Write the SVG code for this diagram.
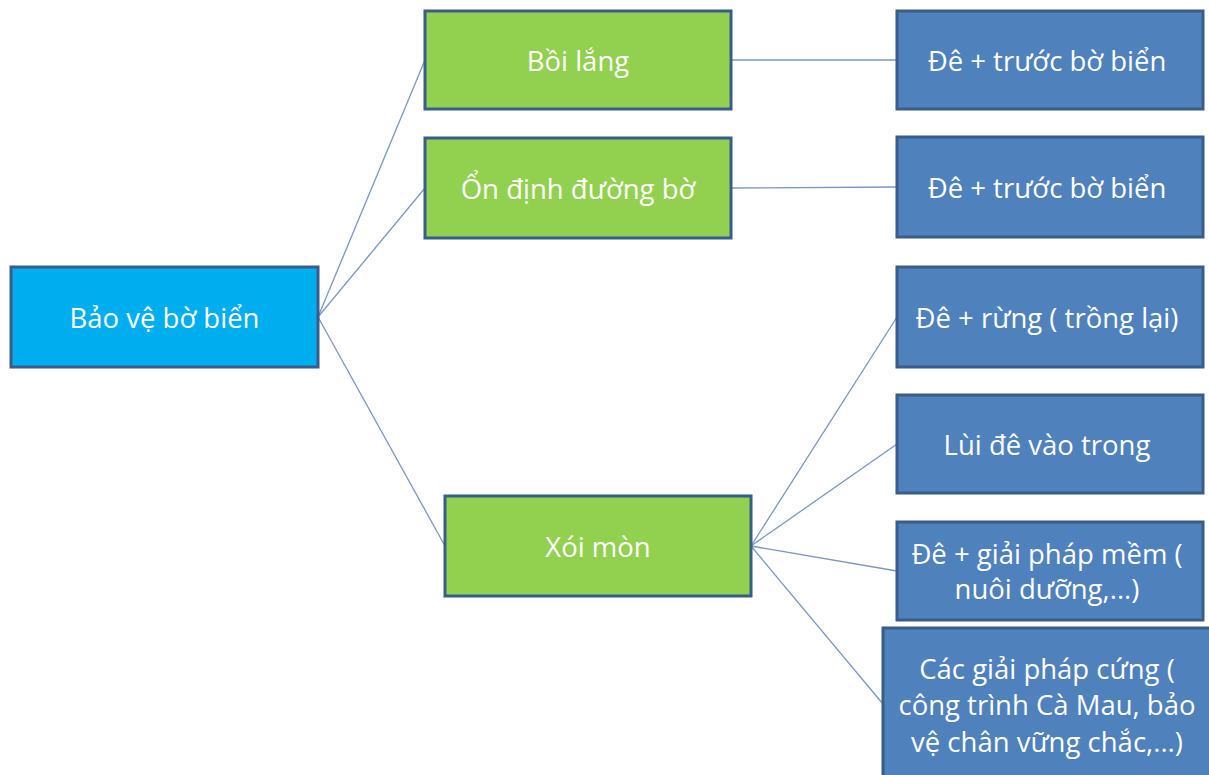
<svg xmlns="http://www.w3.org/2000/svg" width="1209" height="775" viewBox="0 0 1209 775">
<style>
.b{stroke:#385D8A;stroke-width:3}
.root{fill:#00AEEF}
.g{fill:#92D050}
.bl{fill:#4F81BD}
text{font-family:"Open Sans","Liberation Sans",sans-serif;font-size:27.5px;fill:#fff;text-anchor:middle;dominant-baseline:central}
.c line{stroke:#7A96C4;stroke-width:1.3}
</style>
<rect width="1209" height="775" fill="#fff"/>
<g class="c" id="connectors">
<line x1="318" y1="317" x2="425" y2="60"/>
<line x1="318" y1="317" x2="425" y2="188"/>
<line x1="318" y1="317" x2="445" y2="546"/>
<line x1="731" y1="60" x2="897" y2="60"/>
<line x1="731" y1="188" x2="897" y2="187"/>
<line x1="751" y1="546" x2="897" y2="317"/>
<line x1="751" y1="546" x2="897" y2="444"/>
<line x1="751" y1="546" x2="897" y2="571"/>
<line x1="751" y1="546" x2="883" y2="704"/>
</g>
<g id="root"><rect class="b root" x="11" y="267" width="307" height="100"/><text x="164.5" y="317">Bảo vệ bờ biển</text></g>
<g id="boilang"><rect class="b g" x="425" y="11" width="306" height="98"/><text x="578" y="60">Bồi lắng</text></g>
<g id="ondinh"><rect class="b g" x="425" y="138" width="306" height="100"/><text x="578" y="188">Ổn định đường bờ</text></g>
<g id="xoimon"><rect class="b g" x="445" y="496" width="306" height="100"/><text x="598" y="546">Xói mòn</text></g>
<g id="r1"><rect class="b bl" x="897" y="11" width="306" height="98"/><text x="1047" y="60">Đê + trước bờ biển</text></g>
<g id="r2"><rect class="b bl" x="897" y="137" width="306" height="100"/><text x="1047" y="187">Đê + trước bờ biển</text></g>
<g id="r3"><rect class="b bl" x="897" y="267" width="306" height="100"/><text x="1047" y="317">Đê + rừng ( trồng lại)</text></g>
<g id="r4"><rect class="b bl" x="897" y="395" width="306" height="98"/><text x="1047" y="444">Lùi đê vào trong</text></g>
<g id="r5"><rect class="b bl" x="897" y="522" width="306" height="98"/><text x="1047" y="553">Đê + giải pháp mềm (</text><text x="1047" y="588">nuôi dưỡng,...)</text></g>
<g id="r6"><rect class="b bl" x="883" y="628" width="334" height="152"/><text x="1047" y="668">Các giải pháp cứng (</text><text x="1047" y="704">công trình Cà Mau, bảo</text><text x="1047" y="741">vệ chân vững chắc,...)</text></g>
</svg>
